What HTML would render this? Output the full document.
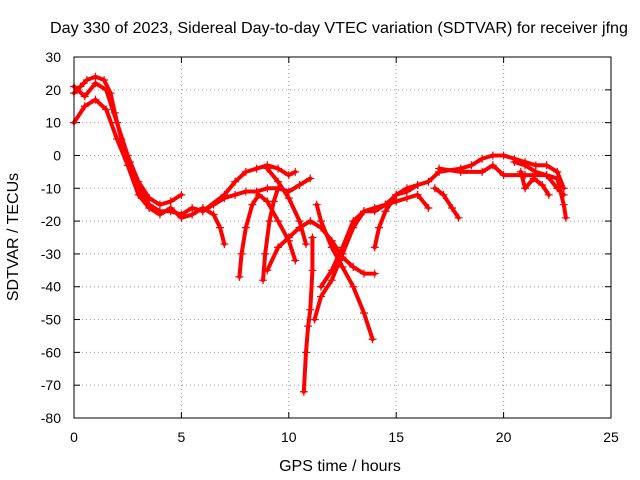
<!DOCTYPE html>
<html><head><meta charset="utf-8"><style>
html,body{margin:0;padding:0;background:#fff}
svg{display:block;font-family:"Liberation Sans",sans-serif}
</style></head><body>
<svg id="chart" width="640" height="480">
<text x="339" y="33" font-size="16" text-anchor="middle" textLength="578" lengthAdjust="spacingAndGlyphs">Day 330 of 2023, Sidereal Day-to-day VTEC variation (SDTVAR) for receiver jfng</text>
<text x="340" y="471" font-size="16" text-anchor="middle">GPS time / hours</text>
<text transform="translate(18,237) rotate(-90)" font-size="16" text-anchor="middle">SDTVAR / TECUs</text>
<g id="grid"></g><g id="series"></g>
<rect x="74" y="57" width="537" height="361" fill="none" stroke="#000"/>
</svg>
<script>
const xTicks=[0,5,10,15,20,25];
const yTicks=[30,20,10,0,-10,-20,-30,-40,-50,-60,-70,-80];
const t1=[[0,19],[0.3,21],[0.6,23],[1,24],[1.4,23],[1.7,19],[1.9,13],[2.2,5],[2.6,-2],[3,-10],[3.5,-15],[4,-17],[4.5,-17],[5,-18],[5.5,-16],[6,-17],[6.5,-15],[7,-13],[7.5,-12],[8,-11],[8.5,-11],[9,-10],[9.5,-10],[10,-11],[10.5,-9],[11,-7]];
const t2=[[0,10],[0.5,15],[1,17],[1.5,14],[2,5],[2.5,-3],[3,-12],[3.5,-16],[4,-18],[4.5,-16],[5,-19],[5.5,-18],[6,-16],[6.5,-18],[6.8,-22],[7,-27]];
const t3=[[0,21],[0.5,18],[1,22],[1.5,20],[2,10],[2.5,0],[3,-8],[3.5,-13],[4,-15],[4.5,-14],[5,-12]];
const t4=[[7.7,-37],[7.8,-30],[8,-22],[8.3,-15],[8.6,-12],[9,-14],[9.5,-20],[10,-26],[10.3,-32]];
const t5=[[6,-17],[7,-12],[7.5,-8],[8,-5],[8.5,-4],[9,-3],[9.5,-4],[10,-6],[10.3,-5]];
const t6=[[8.8,-38],[8.9,-30],[9.1,-20],[9.3,-14],[9.5,-10]];
const t7=[[9,-4],[9.5,-8],[10,-13],[10.5,-20],[10.8,-27]];
const t8=[[9,-35],[9.5,-28],[10,-25],[10.5,-22],[11,-20],[11.5,-22],[12,-26],[12.5,-31],[13,-34],[13.5,-36],[14,-36]];
const t9=[[10.7,-72],[10.8,-60],[10.9,-52],[11,-47],[11.1,-35],[11.1,-25]];
const t10=[[11.3,-15],[11.5,-20],[12,-28],[12.5,-34],[13,-40],[13.5,-48],[13.9,-56]];
const t11=[[11.2,-50],[11.5,-43],[12,-38],[12.5,-30],[13,-22],[13.5,-17],[14,-16],[14.5,-15],[15,-12],[15.5,-11],[16,-9]];
const t12=[[11.5,-40],[12,-35],[12.5,-28],[13,-20],[13.5,-17],[14,-17],[14.5,-15],[15,-14],[15.5,-13],[16,-12],[16.5,-16]];
const t13=[[14,-28],[14.2,-22],[14.5,-17],[15,-12],[15.5,-10],[16,-9],[16.5,-8],[17,-5],[18,-4],[18.5,-3],[19,-1],[19.5,0],[20,0],[20.5,-1],[21,-2],[21.5,-3],[22,-3],[22.5,-5],[22.8,-10]];
const t14=[[16.8,-10],[17.2,-12],[17.6,-16],[17.9,-19]];
const t15=[[17,-4],[18,-5],[19,-5],[19.5,-3],[20,-6],[21,-6],[22,-6],[22.5,-7],[22.8,-15],[22.9,-19]];
const t16=[[20.5,-2],[21,-3],[21.5,-5],[22,-6],[22.5,-10],[22.8,-12]];
const t17=[[20.8,-5],[21,-10],[21.4,-7],[21.8,-9],[22.1,-12]];
const allSeries=[t1,t2,t3,t4,t5,t6,t7,t8,t9,t10,t11,t12,t13,t14,t15,t16,t17];
const X=v=>74+v*(537/25), Y=v=>57+(30-v)*(361/110);
const NS="http://www.w3.org/2000/svg";
const grid=document.getElementById('grid'), ser=document.getElementById('series');
function mk(tag,a,p){const e=document.createElementNS(NS,tag);for(const k in a)e.setAttribute(k,a[k]);p.appendChild(e);return e;}
xTicks.forEach(t=>{
 const l=mk('line',{x1:X(t),x2:X(t),y1:57,y2:418,stroke:'#a0a0a0','stroke-dasharray':'1,3'},grid);
 
 
 mk('line',{x1:X(t),x2:X(t),y1:418,y2:412,stroke:'#000'},grid);
 mk('line',{x1:X(t),x2:X(t),y1:57,y2:63,stroke:'#000'},grid);
 const tx=mk('text',{x:X(t),y:442,'font-size':14,'text-anchor':'middle'},grid);tx.textContent=t;
 
 
});
yTicks.forEach(t=>{
 const l=mk('line',{x1:74,x2:611,y1:Y(t),y2:Y(t),stroke:'#a0a0a0','stroke-dasharray':'1,3'},grid);
 
 
 mk('line',{x1:74,x2:80,y1:Y(t),y2:Y(t),stroke:'#000'},grid);
 mk('line',{x1:605,x2:611,y1:Y(t),y2:Y(t),stroke:'#000'},grid);
 const tx=mk('text',{x:61,y:Y(t)+5,'font-size':14,'text-anchor':'end'},grid);tx.textContent=t;
 
 
});
allSeries.forEach((s,i)=>{
 const g=mk('g',{},ser);
 
 
 mk('polyline',{points:s.map(p=>X(p[0])+','+Y(p[1])).join(' '),fill:'none',stroke:'#f00','stroke-width':4,'stroke-linejoin':'round','stroke-linecap':'round'},g);
 s.forEach(p=>{
  const m=mk('path',{d:`M${X(p[0])-4},${Y(p[1])}h8M${X(p[0])},${Y(p[1])-4}v8`,stroke:'#f00','stroke-width':1.2},g);
  
  
 });
});
</script>
</body></html>
